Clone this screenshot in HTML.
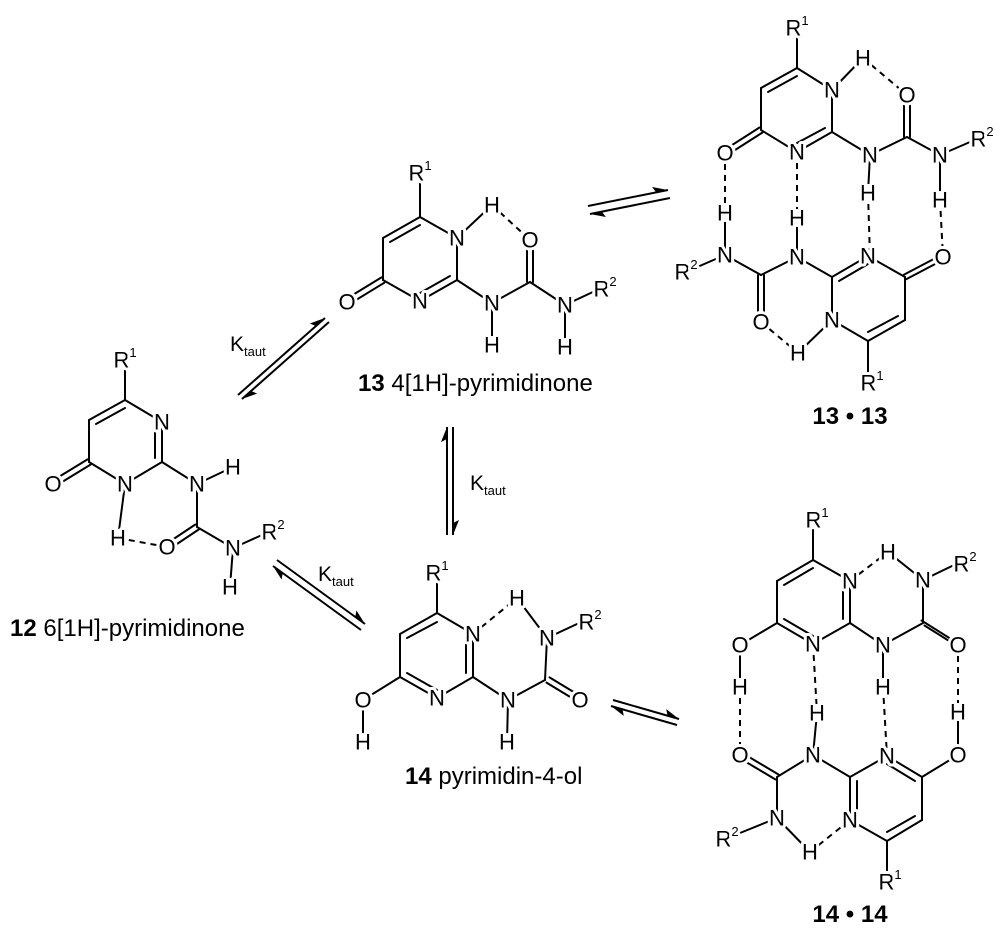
<!DOCTYPE html>
<html><head><meta charset="utf-8"><style>
html,body{margin:0;padding:0;background:#fff;}
svg{display:block;}
.b line{stroke:#000;stroke-width:2;stroke-linecap:round;}
.d line{stroke:#000;stroke-width:2;stroke-dasharray:6,5;}
.c circle{fill:#fff;stroke:none;}
.t text{font-family:"Liberation Sans",sans-serif;font-size:22px;text-anchor:middle;dominant-baseline:central;fill:#000;stroke:#fff;stroke-width:6;paint-order:stroke;stroke-linejoin:round;}
.t tspan.s{font-size:13px;}
.lab{font-family:"Liberation Sans",sans-serif;font-size:24px;fill:#000;}
.k{font-family:"Liberation Sans",sans-serif;font-size:21px;fill:#000;}
</style></head><body>
<svg width="1000" height="943" viewBox="0 0 1000 943" xmlns="http://www.w3.org/2000/svg">
<defs>
<marker id="h" markerUnits="userSpaceOnUse" markerWidth="20" markerHeight="20" refX="0" refY="0" viewBox="-15 -10 20 20" orient="auto" overflow="visible">
<path d="M0,0 L-15,-6 L-12,0 Z" fill="#000"/>
</marker>
</defs>

<g stroke="#000" stroke-width="2" fill="none">
<line x1="588" y1="206" x2="668" y2="190" marker-end="url(#h)"/>
<line x1="670" y1="198" x2="590" y2="214" marker-end="url(#h)"/>
<line x1="238" y1="395" x2="325" y2="318" marker-end="url(#h)"/>
<line x1="329" y1="322" x2="242" y2="399" marker-end="url(#h)"/>
<line x1="453" y1="427" x2="453" y2="535" marker-end="url(#h)"/>
<line x1="447" y1="535" x2="447" y2="427" marker-end="url(#h)"/>
<line x1="277" y1="560" x2="365" y2="624" marker-end="url(#h)"/>
<line x1="361" y1="630" x2="273" y2="566" marker-end="url(#h)"/>
<line x1="613" y1="700" x2="679" y2="719" marker-end="url(#h)"/>
<line x1="677" y1="725" x2="611" y2="706" marker-end="url(#h)"/>
</g>
<text class="k" x="230" y="351">K<tspan font-size="13" dy="5">taut</tspan></text>
<text class="k" x="470" y="490">K<tspan font-size="13" dy="5">taut</tspan></text>
<text class="k" x="318" y="581">K<tspan font-size="13" dy="5">taut</tspan></text>

<!-- ===== 13 ===== -->
<g class="b">
<line x1="420" y1="183" x2="420" y2="217"/>
<line x1="420" y1="217" x2="457" y2="238"/>
<line x1="457" y1="238" x2="457" y2="280"/>
<line x1="457" y1="280" x2="420" y2="301"/>
<line x1="420" y1="301" x2="383" y2="280"/>
<line x1="383" y1="280" x2="383" y2="238"/>
<line x1="383" y1="238" x2="420" y2="217"/>
<line x1="390" y1="242" x2="420" y2="225"/>
<line x1="450" y1="276" x2="420" y2="293"/>
<line x1="384.5" y1="282.6" x2="348.5" y2="304.6"/>
<line x1="381.5" y1="277.4" x2="345.5" y2="299.4"/>
<line x1="457" y1="238" x2="492" y2="205"/>
<line x1="457" y1="280" x2="492" y2="303"/>
<line x1="492" y1="303" x2="530" y2="282"/>
<line x1="527" y1="282" x2="527" y2="240"/>
<line x1="533" y1="282" x2="533" y2="240"/>
<line x1="530" y1="282" x2="565" y2="305"/>
<line x1="565" y1="305" x2="595" y2="291"/>
<line x1="492" y1="303" x2="492" y2="345"/>
<line x1="565" y1="305" x2="565" y2="347"/>
</g>
<g class="d"><line x1="492" y1="205" x2="530" y2="240"/></g>
<g class="c"><circle cx="347" cy="302" r="9"/><circle cx="492" cy="205" r="9"/><circle cx="530" cy="240" r="9"/><circle cx="492" cy="345" r="9"/><circle cx="565" cy="347" r="9"/></g>
<g class="t">
<text x="420" y="173">R<tspan class="s" dy="-8">1</tspan></text>
<text x="457" y="238">N</text><text x="420" y="301">N</text><text x="347" y="302">O</text>
<text x="492" y="205">H</text><text x="530" y="240">O</text>
<text x="492" y="303">N</text><text x="492" y="345">H</text>
<text x="565" y="305">N</text><text x="565" y="347">H</text>
<text x="605" y="289">R<tspan class="s" dy="-8">2</tspan></text>
</g>
<text class="lab" x="358" y="391"><tspan font-weight="bold">13</tspan> 4[1H]-pyrimidinone</text>

<!-- ===== 12 ===== -->
<g class="b">
<line x1="125" y1="370" x2="125" y2="400"/>
<line x1="125" y1="400" x2="162" y2="422"/>
<line x1="162" y1="422" x2="162" y2="462"/>
<line x1="162" y1="462" x2="125" y2="484"/>
<line x1="125" y1="484" x2="89" y2="462"/>
<line x1="89" y1="462" x2="89" y2="420"/>
<line x1="89" y1="420" x2="125" y2="400"/>
<line x1="96" y1="424" x2="125" y2="408"/>
<line x1="155" y1="426" x2="155" y2="458"/>
<line x1="90.5" y1="464.6" x2="54.5" y2="486.6"/>
<line x1="87.5" y1="459.4" x2="51.5" y2="481.4"/>
<line x1="125" y1="484" x2="118" y2="538"/>
<line x1="162" y1="462" x2="197" y2="484"/>
<line x1="197" y1="484" x2="233" y2="467"/>
<line x1="197" y1="484" x2="197" y2="527"/>
<line x1="198.7" y1="529.5" x2="168.7" y2="549.5"/>
<line x1="195.3" y1="524.5" x2="165.3" y2="544.5"/>
<line x1="197" y1="527" x2="233" y2="548"/>
<line x1="233" y1="548" x2="262" y2="535"/>
<line x1="233" y1="548" x2="230" y2="587"/>
</g>
<g class="d"><line x1="118" y1="538" x2="167" y2="547"/></g>
<g class="c"><circle cx="53" cy="484" r="9"/><circle cx="233" cy="467" r="9"/><circle cx="118" cy="538" r="9"/><circle cx="167" cy="547" r="9"/><circle cx="230" cy="587" r="9"/></g>
<g class="t">
<text x="125" y="360">R<tspan class="s" dy="-8">1</tspan></text>
<text x="162" y="422">N</text><text x="53" y="484">O</text><text x="125" y="484">N</text>
<text x="197" y="484">N</text><text x="233" y="467">H</text>
<text x="118" y="538">H</text><text x="167" y="547">O</text>
<text x="233" y="548">N</text><text x="230" y="587">H</text>
<text x="273" y="532">R<tspan class="s" dy="-8">2</tspan></text>
</g>
<text class="lab" x="10" y="636"><tspan font-weight="bold">12</tspan> 6[1H]-pyrimidinone</text>

<!-- ===== 14 ===== -->
<g class="b">
<line x1="437" y1="583" x2="437" y2="613"/>
<line x1="437" y1="613" x2="473" y2="634"/>
<line x1="473" y1="634" x2="473" y2="677"/>
<line x1="473" y1="677" x2="437" y2="698"/>
<line x1="437" y1="698" x2="400" y2="677"/>
<line x1="400" y1="677" x2="400" y2="634"/>
<line x1="400" y1="634" x2="437" y2="613"/>
<line x1="407" y1="638" x2="437" y2="622"/>
<line x1="407" y1="673" x2="437" y2="690"/>
<line x1="466" y1="638" x2="466" y2="673"/>
<line x1="400" y1="677" x2="363" y2="700"/>
<line x1="363" y1="700" x2="363" y2="742"/>
<line x1="517" y1="598" x2="547" y2="638"/>
<line x1="547" y1="638" x2="577" y2="624"/>
<line x1="547" y1="638" x2="545" y2="680"/>
<line x1="546.5" y1="682.6" x2="579.5" y2="702.6"/>
<line x1="549.5" y1="677.4" x2="582.5" y2="697.4"/>
<line x1="545" y1="680" x2="508" y2="700"/>
<line x1="508" y1="700" x2="473" y2="677"/>
<line x1="508" y1="700" x2="507" y2="742"/>
</g>
<g class="d"><line x1="473" y1="634" x2="517" y2="598"/></g>
<g class="c"><circle cx="363" cy="700" r="9"/><circle cx="363" cy="742" r="9"/><circle cx="517" cy="598" r="9"/><circle cx="580" cy="700" r="9"/><circle cx="507" cy="742" r="9"/></g>
<g class="t">
<text x="437" y="573">R<tspan class="s" dy="-8">1</tspan></text>
<text x="473" y="634">N</text><text x="437" y="698">N</text>
<text x="363" y="700">O</text><text x="363" y="742">H</text>
<text x="517" y="598">H</text><text x="547" y="638">N</text>
<text x="590" y="622">R<tspan class="s" dy="-8">2</tspan></text>
<text x="580" y="700">O</text><text x="508" y="700">N</text><text x="507" y="742">H</text>
</g>
<text class="lab" x="405" y="784"><tspan font-weight="bold">14</tspan> pyrimidin-4-ol</text>

<!-- ===== 13·13 ===== -->
<g class="b">
<line x1="797" y1="38" x2="797" y2="68"/>
<line x1="797" y1="68" x2="832" y2="90"/>
<line x1="832" y1="90" x2="832" y2="132"/>
<line x1="832" y1="132" x2="797" y2="152"/>
<line x1="797" y1="152" x2="761" y2="130"/>
<line x1="761" y1="130" x2="761" y2="88"/>
<line x1="761" y1="88" x2="797" y2="68"/>
<line x1="768" y1="92" x2="797" y2="76"/>
<line x1="825" y1="128" x2="797" y2="143"/>
<line x1="762.5" y1="132.5" x2="726.5" y2="155.5"/>
<line x1="759.5" y1="127.5" x2="723.5" y2="150.5"/>
<line x1="832" y1="90" x2="863" y2="58"/>
<line x1="832" y1="132" x2="870" y2="155"/>
<line x1="870" y1="155" x2="907" y2="137"/>
<line x1="904" y1="137" x2="904" y2="95"/>
<line x1="910" y1="137" x2="910" y2="95"/>
<line x1="907" y1="137" x2="940" y2="155"/>
<line x1="940" y1="155" x2="970" y2="142"/>
<line x1="870" y1="155" x2="868" y2="193"/>
<line x1="940" y1="155" x2="940" y2="200"/>
<line x1="725" y1="213" x2="725" y2="255"/>
<line x1="725" y1="255" x2="695" y2="268"/>
<line x1="725" y1="255" x2="761" y2="275"/>
<line x1="758" y1="275" x2="758" y2="322"/>
<line x1="764" y1="275" x2="764" y2="322"/>
<line x1="761" y1="275" x2="797" y2="257"/>
<line x1="797" y1="257" x2="797" y2="218"/>
<line x1="797" y1="257" x2="832" y2="277"/>
<line x1="832" y1="277" x2="868" y2="256"/>
<line x1="868" y1="256" x2="905" y2="277"/>
<line x1="905" y1="277" x2="905" y2="320"/>
<line x1="905" y1="320" x2="868" y2="341"/>
<line x1="868" y1="341" x2="832" y2="320"/>
<line x1="832" y1="320" x2="832" y2="277"/>
<line x1="839" y1="281" x2="868" y2="264"/>
<line x1="898" y1="316" x2="868" y2="332"/>
<line x1="906.2" y1="279.2" x2="944.2" y2="259.2"/>
<line x1="903.8" y1="274.8" x2="941.8" y2="254.8"/>
<line x1="832" y1="320" x2="798" y2="353"/>
<line x1="868" y1="341" x2="868" y2="373"/>
</g>
<g class="d">
<line x1="863" y1="58" x2="907" y2="95"/>
<line x1="725" y1="153" x2="725" y2="213"/>
<line x1="797" y1="152" x2="797" y2="218"/>
<line x1="868" y1="193" x2="870" y2="257"/>
<line x1="940" y1="200" x2="943" y2="257"/>
<line x1="761" y1="322" x2="798" y2="353"/>
</g>
<g class="c"><circle cx="725" cy="153" r="9"/><circle cx="863" cy="58" r="9"/><circle cx="907" cy="95" r="9"/><circle cx="868" cy="193" r="9"/><circle cx="940" cy="200" r="9"/><circle cx="725" cy="213" r="9"/><circle cx="761" cy="322" r="9"/><circle cx="797" cy="218" r="9"/><circle cx="943" cy="257" r="9"/><circle cx="798" cy="353" r="9"/></g>
<g class="t">
<text x="797" y="28">R<tspan class="s" dy="-8">1</tspan></text>
<text x="832" y="90">N</text><text x="797" y="152">N</text><text x="725" y="153">O</text>
<text x="863" y="58">H</text><text x="907" y="95">O</text>
<text x="870" y="155">N</text><text x="868" y="193">H</text>
<text x="940" y="155">N</text><text x="940" y="200">H</text>
<text x="982" y="139">R<tspan class="s" dy="-8">2</tspan></text>
<text x="725" y="213">H</text><text x="725" y="255">N</text>
<text x="686" y="272">R<tspan class="s" dy="-8">2</tspan></text>
<text x="761" y="322">O</text><text x="797" y="218">H</text><text x="797" y="257">N</text>
<text x="868" y="256">N</text><text x="943" y="257">O</text>
<text x="832" y="320">N</text><text x="798" y="353">H</text>
<text x="872" y="383">R<tspan class="s" dy="-8">1</tspan></text>
</g>
<text class="lab" x="850" y="424" text-anchor="middle" font-weight="bold">13 • 13</text>

<!-- ===== 14·14 ===== -->
<g class="b">
<line x1="813" y1="530" x2="813" y2="560"/>
<line x1="813" y1="560" x2="850" y2="581"/>
<line x1="850" y1="581" x2="850" y2="623"/>
<line x1="850" y1="623" x2="813" y2="644"/>
<line x1="813" y1="644" x2="777" y2="623"/>
<line x1="777" y1="623" x2="777" y2="581"/>
<line x1="777" y1="581" x2="813" y2="560"/>
<line x1="784" y1="585" x2="813" y2="568"/>
<line x1="784" y1="619" x2="813" y2="636"/>
<line x1="843" y1="585" x2="843" y2="619"/>
<line x1="777" y1="623" x2="740" y2="645"/>
<line x1="740" y1="645" x2="740" y2="687"/>
<line x1="888" y1="552" x2="923" y2="580"/>
<line x1="923" y1="580" x2="952" y2="566"/>
<line x1="923" y1="580" x2="923" y2="623"/>
<line x1="924.5" y1="625.5" x2="959.5" y2="647.5"/>
<line x1="921.5" y1="620.5" x2="956.5" y2="642.5"/>
<line x1="923" y1="623" x2="883" y2="645"/>
<line x1="883" y1="645" x2="850" y2="623"/>
<line x1="883" y1="645" x2="883" y2="687"/>
<line x1="958" y1="712" x2="958" y2="755"/>
<line x1="817" y1="713" x2="813" y2="755"/>
<line x1="741.5" y1="752.5" x2="778.5" y2="774.5"/>
<line x1="738.5" y1="757.5" x2="775.5" y2="779.5"/>
<line x1="777" y1="777" x2="813" y2="755"/>
<line x1="777" y1="777" x2="777" y2="818"/>
<line x1="777" y1="818" x2="740" y2="833"/>
<line x1="777" y1="818" x2="810" y2="852"/>
<line x1="813" y1="755" x2="850" y2="777"/>
<line x1="850" y1="777" x2="887" y2="756"/>
<line x1="887" y1="756" x2="922" y2="777"/>
<line x1="922" y1="777" x2="922" y2="820"/>
<line x1="922" y1="820" x2="887" y2="841"/>
<line x1="887" y1="841" x2="850" y2="820"/>
<line x1="850" y1="820" x2="850" y2="777"/>
<line x1="857" y1="781" x2="857" y2="816"/>
<line x1="887" y1="764" x2="915" y2="781"/>
<line x1="915" y1="816" x2="887" y2="832"/>
<line x1="922" y1="777" x2="958" y2="755"/>
<line x1="887" y1="841" x2="887" y2="872"/>
</g>
<g class="d">
<line x1="850" y1="581" x2="888" y2="552"/>
<line x1="740" y1="687" x2="740" y2="755"/>
<line x1="813" y1="644" x2="817" y2="713"/>
<line x1="883" y1="687" x2="887" y2="756"/>
<line x1="958" y1="645" x2="958" y2="712"/>
<line x1="810" y1="852" x2="850" y2="820"/>
</g>
<g class="c"><circle cx="740" cy="645" r="9"/><circle cx="740" cy="687" r="9"/><circle cx="888" cy="552" r="9"/><circle cx="958" cy="645" r="9"/><circle cx="883" cy="687" r="9"/><circle cx="817" cy="713" r="9"/><circle cx="958" cy="712" r="9"/><circle cx="740" cy="755" r="9"/><circle cx="958" cy="755" r="9"/><circle cx="810" cy="852" r="9"/></g>
<g class="t">
<text x="817" y="520">R<tspan class="s" dy="-8">1</tspan></text>
<text x="850" y="581">N</text><text x="813" y="644">N</text>
<text x="740" y="645">O</text><text x="740" y="687">H</text>
<text x="888" y="552">H</text><text x="923" y="580">N</text>
<text x="965" y="564">R<tspan class="s" dy="-8">2</tspan></text>
<text x="958" y="645">O</text><text x="883" y="645">N</text><text x="883" y="687">H</text>
<text x="817" y="713">H</text><text x="958" y="712">H</text>
<text x="740" y="755">O</text><text x="813" y="755">N</text>
<text x="887" y="756">N</text><text x="958" y="755">O</text>
<text x="777" y="818">N</text>
<text x="727" y="839">R<tspan class="s" dy="-8">2</tspan></text>
<text x="810" y="852">H</text><text x="850" y="820">N</text>
<text x="890" y="882">R<tspan class="s" dy="-8">1</tspan></text>
</g>
<text class="lab" x="850" y="922" text-anchor="middle" font-weight="bold">14 • 14</text>
</svg>
</body></html>
